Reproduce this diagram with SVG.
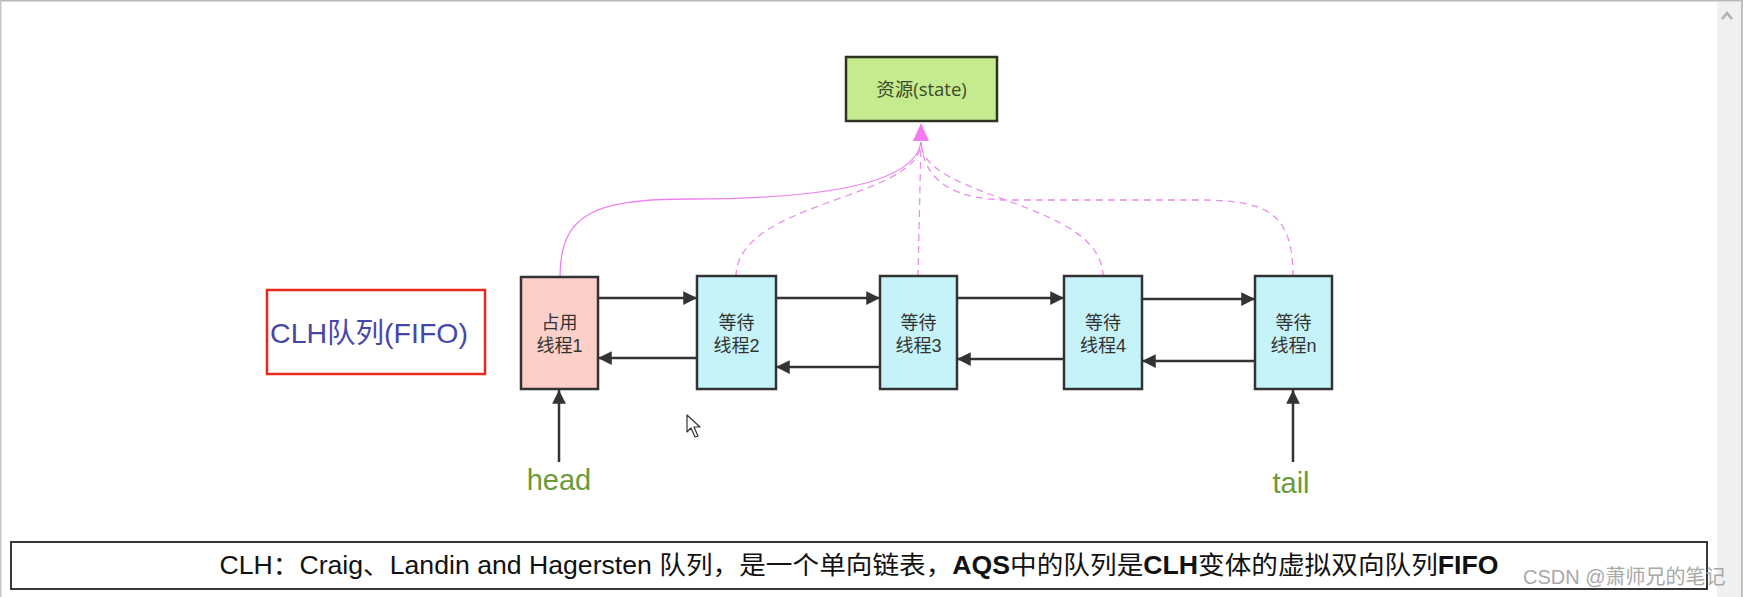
<svg xmlns="http://www.w3.org/2000/svg" width="1743" height="597" viewBox="0 0 1743 597">
<style>
.node{stroke:#333;stroke-width:2.5}
.nt{font-family:"Liberation Sans","Noto Sans CJK SC",sans-serif;font-size:18px;fill:#333;text-anchor:middle}
.lk{stroke:#333;stroke-width:2.5;fill:none;marker-end:url(#ah)}
.pk{stroke:#f080f0;stroke-width:1.3;fill:none}
.pd{stroke:#e890e8;stroke-width:1.3;fill:none;stroke-dasharray:7 5}
.lbl{font-family:"Liberation Sans","Noto Sans CJK SC",sans-serif;font-size:29px;fill:#6a9a3a;text-anchor:middle}
</style>
<defs>
<marker id="ah" viewBox="0 0 10 10" refX="10" refY="5" markerWidth="9" markerHeight="5.5" markerUnits="strokeWidth" orient="auto">
<path d="M0,0 L10,5 L0,10 Z" fill="#333"/>
</marker>
</defs>
<rect x="0" y="0" width="1743" height="597" fill="#fff"/>
<line x1="0" y1="0.5" x2="1743" y2="0.5" stroke="#b8b8b8" stroke-width="2"/>
<line x1="0.5" y1="0" x2="0.5" y2="597" stroke="#c8c8c8" stroke-width="2"/>
<rect x="1717" y="2" width="24" height="595" fill="#f0f0f0"/>
<line x1="1742" y1="0" x2="1742" y2="597" stroke="#c0c0c0" stroke-width="2"/>
<path d="M1722,19 L1727,13 L1732,19" stroke="#b0b0b0" stroke-width="2.5" fill="none"/>

<g id="connectors">
<path class="pk" d="M560,277 C560,215 592,199 690,199 C820,199 915,185 921,142"/>
<path class="pd" d="M736,277 C736,200 921,200 921,142"/>
<path class="pd" d="M918,277 L921,142"/>
<path class="pd" d="M1103,277 C1103,200 921,200 921,142"/>
<path class="pd" d="M1293,277 C1293,215 1270,200 1200,200 L1010,200 C960,200 924,185 921,142"/>
<path d="M921,123 L913,141 L929,141 Z" fill="#f07cf0"/>
<line class="lk" x1="598" y1="298" x2="697" y2="298"/>
<line class="lk" x1="776" y1="298" x2="880" y2="298"/>
<line class="lk" x1="957" y1="298" x2="1064" y2="298"/>
<line class="lk" x1="1142" y1="299" x2="1255" y2="299"/>
<line class="lk" x1="697" y1="358" x2="598" y2="358"/>
<line class="lk" x1="880" y1="367" x2="776" y2="367"/>
<line class="lk" x1="1064" y1="359" x2="957" y2="359"/>
<line class="lk" x1="1255" y1="361" x2="1142" y2="361"/>
<line class="lk" x1="559" y1="462" x2="559" y2="390"/>
<line class="lk" x1="1293" y1="462" x2="1293" y2="390"/>
</g>

<g id="state">
<rect x="846" y="57" width="151" height="64" fill="#c6eb8e" stroke="#2b3520" stroke-width="2.5"/>
<text x="921.5" y="95.5" font-family="'Open Sans','Noto Sans CJK SC',sans-serif" font-size="18.5" fill="#3c4a2c" text-anchor="middle">资源(state)</text>
</g>

<g id="clh-label">
<rect x="267" y="290" width="218" height="84" fill="#fff" stroke="#e8281c" stroke-width="2.5"/>
<text x="369" y="343" font-family="'Liberation Sans','Noto Sans CJK SC',sans-serif" font-size="28.5" fill="#4646a8" text-anchor="middle">CLH队列(FIFO)</text>
</g>

<g id="node1">
<rect class="node" x="521" y="277" width="77" height="112" fill="#fcd0c8"/>
<text class="nt" x="559.5" y="329">占用</text>
<text class="nt" x="559.5" y="352">线程1</text>
</g>
<g id="node2">
<rect class="node" x="697" y="276" width="79" height="113" fill="#c6f3f8"/>
<text class="nt" x="736.5" y="329">等待</text>
<text class="nt" x="736.5" y="352">线程2</text>
</g>
<g id="node3">
<rect class="node" x="880" y="276" width="77" height="113" fill="#c6f3f8"/>
<text class="nt" x="918.5" y="329">等待</text>
<text class="nt" x="918.5" y="352">线程3</text>
</g>
<g id="node4">
<rect class="node" x="1064" y="276" width="78" height="113" fill="#c6f3f8"/>
<text class="nt" x="1103" y="329">等待</text>
<text class="nt" x="1103" y="352">线程4</text>
</g>
<g id="noden">
<rect class="node" x="1255" y="276" width="77" height="113" fill="#c6f3f8"/>
<text class="nt" x="1293.5" y="329">等待</text>
<text class="nt" x="1293.5" y="352">线程n</text>
</g>

<g id="head">
<text class="lbl" x="559" y="490">head</text>
</g>
<g id="tail">
<text class="lbl" x="1291" y="493">tail</text>
</g>

<path d="M687,415 L687,432 L691,428 L695,437 L698,436 L694,427 L700,427 Z" fill="#fff" stroke="#333" stroke-width="1.2" stroke-linejoin="round"/>

<g id="caption">
<rect x="11" y="542" width="1696" height="47" fill="#fff" stroke="#222" stroke-width="1.8"/>
<text x="859" y="574" font-family="'Liberation Sans','Noto Sans CJK SC',sans-serif" font-size="25" fill="#111" text-anchor="middle" textLength="1279" lengthAdjust="spacingAndGlyphs">CLH：Craig、Landin and Hagersten 队列，是一个单向链表，<tspan font-weight="bold">AQS</tspan>中的队列是<tspan font-weight="bold">CLH</tspan>变体的虚拟双向队列<tspan font-weight="bold">FIFO</tspan></text>
</g>
<text x="1523" y="584" font-family="'Liberation Sans','Noto Sans CJK SC',sans-serif" font-size="20" fill="#a8a8a8">CSDN @萧师兄的笔记</text>
</svg>
